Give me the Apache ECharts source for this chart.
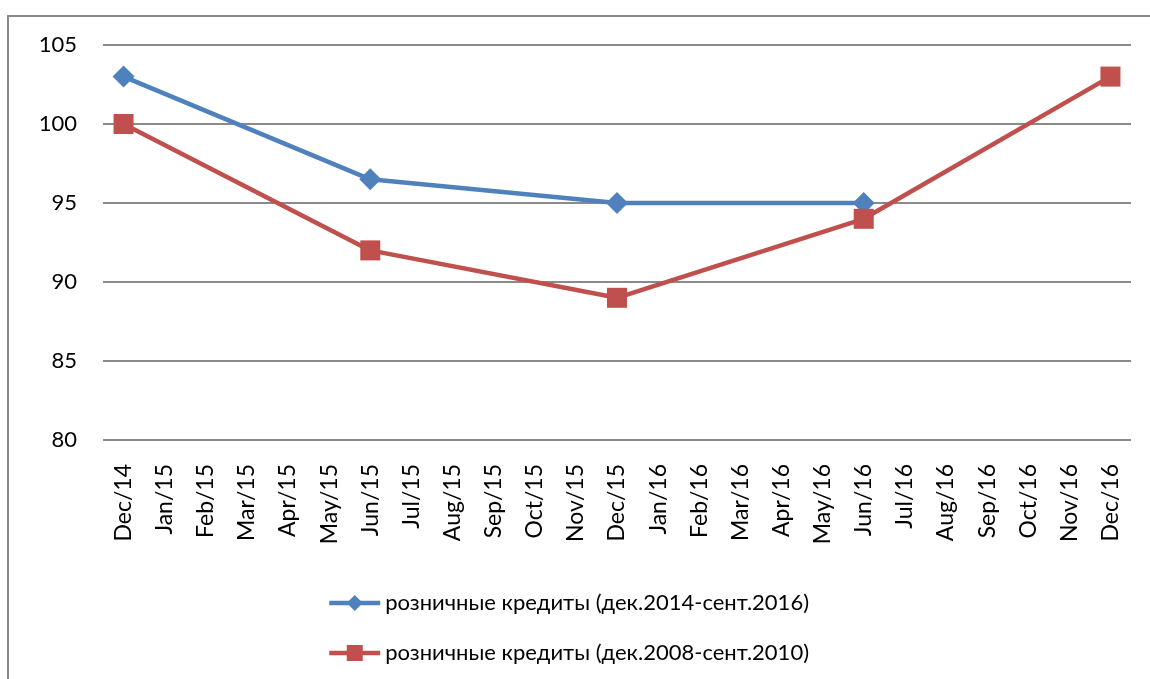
<!DOCTYPE html>
<html>
<head>
<meta charset="utf-8">
<script src="https://cdn.jsdelivr.net/npm/echarts@6/dist/echarts.min.js"></script>
<style>html,body{margin:0;padding:0;background:#fff;}#c{width:1150px;height:679px;}</style>
</head>
<body>
<div id="c"></div>
<script>
const categories = ['Dec/14','Jan/15','Feb/15','Mar/15','Apr/15','May/15','Jun/15','Jul/15','Aug/15','Sep/15','Oct/15','Nov/15','Dec/15','Jan/16','Feb/16','Mar/16','Apr/16','May/16','Jun/16','Jul/16','Aug/16','Sep/16','Oct/16','Nov/16','Dec/16'];
const seriesNames = ['розничные кредиты (дек.2014-сент.2016)', 'розничные кредиты (дек.2008-сент.2010)'];
const retail2014 = [[0,103],[6,96.5],[12,95],[18,95]];
const retail2008 = [[0,100],[6,92],[12,89],[18,94],[24,103]];
const yTicks = [80,85,90,95,100,105];

const FONT = "Lato, 'Noto Sans', sans-serif";
const chart = echarts.init(document.getElementById('c'), null, {renderer:'canvas'});
chart.setOption({
  animation:false,
  backgroundColor:'#fff',
  graphic:[{type:'rect', shape:{x:8,y:16,width:1300,height:800}, style:{fill:'none',stroke:'#8a8a8a',lineWidth:2}, silent:true}],
  grid:{left:103,right:19,top:45,bottom:239,containLabel:false},
  xAxis:{type:'category',data:categories,boundaryGap:true,
    axisLine:{show:false},axisTick:{show:false},
    axisLabel:{rotate:90,interval:0,margin:24,color:'#000',fontSize:23,fontFamily:FONT}},
  yAxis:{type:'value',min:yTicks[0],max:yTicks[yTicks.length-1],interval:5,
    axisLine:{show:false},axisTick:{show:false},
    axisLabel:{margin:26,color:'#000',fontSize:22,fontFamily:FONT},
    splitLine:{lineStyle:{color:'#8a8a8a',width:2}}},
  legend:{orient:'vertical',left:322,top:587,itemWidth:51,itemHeight:20,itemGap:28,
    lineStyle:{width:4.5},
    textStyle:{fontSize:22,fontFamily:FONT,color:'#000'},
    data:seriesNames},
  series:[
    {name:seriesNames[0],type:'line',data:retail2014,symbol:'diamond',symbolSize:22,
      lineStyle:{color:'#4F81BD',width:4.5},itemStyle:{color:'#4F81BD'}},
    {name:seriesNames[1],type:'line',data:retail2008,symbol:'rect',symbolSize:20,
      lineStyle:{color:'#C0504D',width:4.5},itemStyle:{color:'#C0504D'}}
  ]
});
</script>
</body>
</html>
